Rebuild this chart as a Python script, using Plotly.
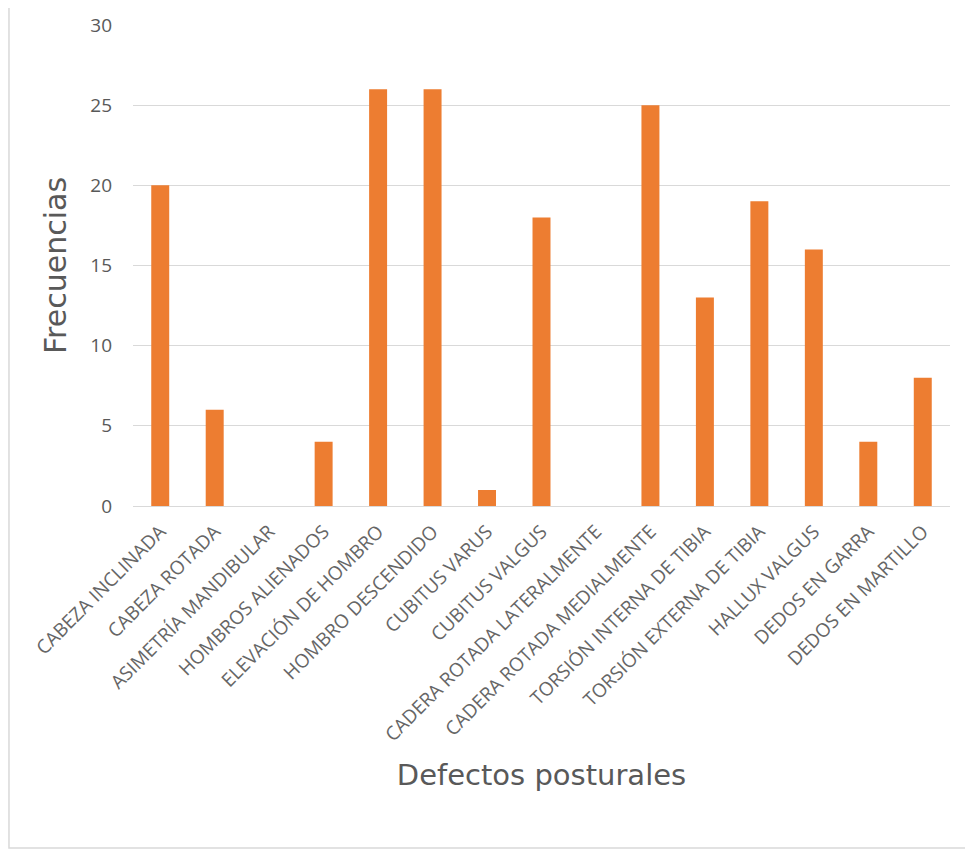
import plotly.graph_objects as go

categories = [
    "CABEZA INCLINADA", "CABEZA ROTADA", "ASIMETRÍA MANDIBULAR", "HOMBROS ALIENADOS",
    "ELEVACIÓN DE HOMBRO", "HOMBRO DESCENDIDO", "CUBITUS VARUS", "CUBITUS VALGUS",
    "CADERA ROTADA LATERALMENTE", "CADERA ROTADA MEDIALMENTE", "TORSIÓN INTERNA DE TIBIA",
    "TORSIÓN EXTERNA DE TIBIA", "HALLUX VALGUS", "DEDOS EN GARRA", "DEDOS EN MARTILLO",
]
frecuencias = [20, 6, 0, 4, 26, 26, 1, 18, 0, 25, 13, 19, 16, 4, 8]
y_ticks = [0, 5, 10, 15, 20, 25, 30]

fig = go.Figure(go.Bar(x=categories, y=frecuencias, marker=dict(color="#ED7D31", line=dict(width=0))))

# page body has an 8px margin; figure is sized/offset to compensate
fig.update_layout(
    width=965, height=848,
    margin=dict(l=125, r=23, t=17, b=350),
    plot_bgcolor="white", paper_bgcolor="white",
    bargap=0.67,
    showlegend=False,
    font=dict(family="Open Sans", color="#595959"),
    xaxis=dict(
        automargin=False,
        tickangle=-45, tickfont=dict(size=19, color="#666666"),
        showgrid=False, showline=True, linecolor="#D9D9D9", linewidth=1,
        ticks="", ticklabelstandoff=6,
        title=dict(text="Defectos posturales", font=dict(size=29, family="DejaVu Sans", color="#595959"), standoff=18),
    ),
    yaxis=dict(
        automargin=False,
        range=[0, 30], tickvals=y_ticks, tickfont=dict(size=19, color="#595959"),
        showgrid=True, gridcolor="#D9D9D9", gridwidth=1, zeroline=False,
        ticks="", ticklen=0, ticklabelstandoff=20,
        title=dict(text="Frecuencias", font=dict(size=30, family="DejaVu Sans", color="#595959"), standoff=14),
    ),
    shapes=[dict(type="rect", xref="paper", yref="paper", x0=-0.1518, x1=1.0196, y0=-0.711, y1=1.04,
                 line=dict(color="#D9D9D9", width=1.5), fillcolor="rgba(0,0,0,0)", layer="below")],
)

fig.write_html("out.html")
